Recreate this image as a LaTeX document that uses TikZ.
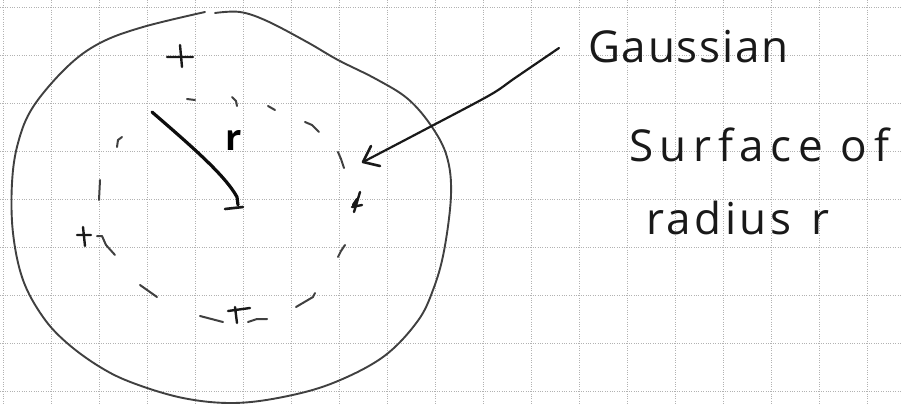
\documentclass[tikz,border=0pt]{standalone}
\usepackage{fontspec}
\setmainfont{Open Sans}
\begin{document}
\begin{tikzpicture}[x=1pt,y=-1pt,
  gridline/.style={black!30, line width=0.45pt, dash pattern=on 0.8pt off 1.6pt},
  pen/.style={black!75, line width=1.9pt, line cap=round, line join=round},
  dashpen/.style={black!75, line width=2pt, line cap=round, line join=round},
  plusmark/.style={black!90, line width=2.4pt, line cap=round},
  boldpen/.style={black!95, line width=3.2pt, line cap=round, line join=round},
  hand/.style={inner sep=0pt, anchor=base west, text=black!90, font=\fontsize{44}{50}\selectfont}]
\useasboundingbox (0,0) rectangle (902,404);
\fill[white] (0,0) rectangle (902,404);
% graph paper
\foreach \y in {7,55,...,391} \draw[gridline] (0,\y) -- (902,\y);
\foreach \x in {3,51,...,867} \draw[gridline] (\x,0) -- (\x,404);
% big sphere (gap at top)
\draw[pen] plot[smooth, tension=0.6] coordinates {(205,12) (143,27) (100,43) (67,67) (33,107) (18,143) (12,183) (13,233) (23,280) (43,317) (67,343) (100,367) (133,383) (183,398) (233,403) (283,397) (333,383) (383,357) (417,322) (433,290) (444,251) (451,195) (447,157) (432,127) (408,99) (376,79) (338,60) (307,42) (267,21) (240,12) (215,13)};
% Gaussian surface: hand-drawn dashes
\draw[dashpen] (187,99) -- (195,100);
\draw[dashpen] (232,97) -- (236,101) -- (237,106);
\draw[dashpen] (268,106) -- (275,110);
\draw[dashpen] (305,122) -- (312,125) -- (319,132);
\draw[dashpen] (338,152) -- (341,159) -- (344,168);
\draw[dashpen] (345,245) -- (341,251) -- (338,257);
\draw[dashpen] (315,293) -- (313,297) -- (296,307);
\draw[dashpen] (248,322) -- (257,319) -- (267,319);
\draw[dashpen] (200,316) -- (223,322);
\draw[dashpen] (140,285) -- (157,297);
\draw[dashpen] (97,236) -- (102,236) -- (106,245) -- (115,255);
\draw[dashpen] (100,180) -- (99,200);
\draw[dashpen] (117,147) -- (118,140) -- (122,137);
% charges
\draw[plusmark] (167,57) -- (193,57) (180,45) -- (182,67);
\draw[plusmark] (77,235) -- (91,235) (83,227) -- (85,246);
\draw[plusmark] (228,311) -- (250,308) (235,307) -- (237,323);
\draw[plusmark] (354,212) -- (360,192) (352,207) -- (362,205) (353,205) -- (357,199);
% radius
\coordinate (rim) at (152,112);
\coordinate (ctr) at (238,205);
\draw[boldpen] (rim) .. controls (190,145) and (225,175) .. (237,197) -- (ctr);
\draw[plusmark, line width=2.6pt] (225,209) -- (243,207);
\node[inner sep=0pt, font=\fontsize{36}{40}\selectfont\bfseries, text=black] (rlab) at (234,140) {r};
% arrow
\coordinate (astart) at (559,48);
\coordinate (atip) at (363,162);
\draw[pen, line width=2.2pt, black!90] plot[smooth, tension=0.5] coordinates {(astart) (515,78) (490,95) (426,129) (atip)};
\draw[pen, line width=2.6pt, black!90] (371,146) -- (atip) -- (380,166);
% labels
\node[hand] (gauss) at (588,63) {\addfontfeature{LetterSpace=4}Gaussian};
\node[hand] (surf) at (629,161) {\addfontfeature{LetterSpace=15}Surface of};
\node[hand] (rad) at (646,234) {\addfontfeature{LetterSpace=8}radius\hspace{20pt}r};
\end{tikzpicture}
\end{document}
